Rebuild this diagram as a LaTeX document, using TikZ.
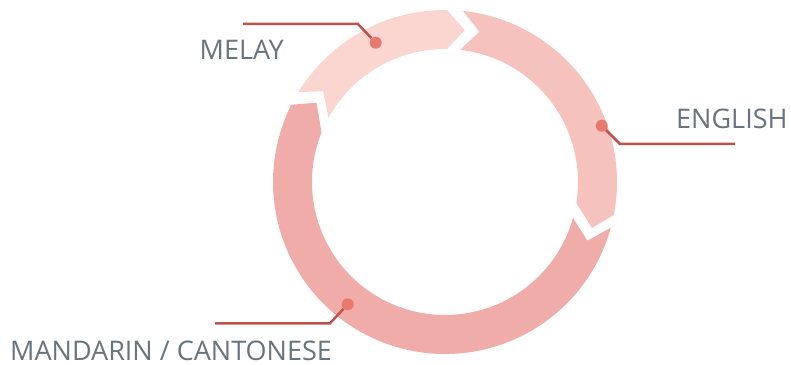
\documentclass[tikz,border=0pt]{standalone}
\usepackage{fontspec}
\setmainfont{Open Sans}
\definecolor{segone}{HTML}{FBD6D1}
\definecolor{segtwo}{HTML}{F5C2BE}
\definecolor{segthree}{HTML}{F0ACA8}
\definecolor{dotc}{HTML}{E8796F}
\definecolor{leadc}{HTML}{BC524C}
\definecolor{txtc}{HTML}{67737D}
\begin{document}
\begin{tikzpicture}[x=1pt,y=1pt,
  lbl/.style={font=\fontsize{27}{29}\selectfont, text=txtc, inner sep=0pt, anchor=base west},
  dotnode/.style={circle, fill=dotc, minimum size=12pt, inner sep=0pt},
  leader/.style={draw=leadc, line width=2.5pt}]
\useasboundingbox (0,0) rectangle (791,364);
\begin{scope}[shift={(445,182)}]
  % MELAY segment
  \fill[segone] (148.5:172) arc[start angle=148.5, end angle=89.3, radius=172]
     -- (82.6:153) -- (89.1:133) arc[start angle=89.1, end angle=151.2, radius=133]
     -- (143.3:152) -- cycle;
  % ENGLISH segment
  \fill[segtwo] (84:172) arc[start angle=84, end angle=-11, radius=172]
     -- (-17.4:154) -- (-9.1:133) arc[start angle=-9.1, end angle=83.5, radius=133]
     -- (77.1:154) -- cycle;
  % MANDARIN segment
  \fill[segthree] (-15.4:172) arc[start angle=-15.4, end angle=-206.7, radius=172]
     -- (-211.7:151) -- (-201.8:133) arc[start angle=-201.8, end angle=-15.7, radius=133]
     -- (-22.4:154) -- cycle;
\end{scope}
% dots
\node[dotnode] (dm) at (375.7,321.3) {};
\node[dotnode] (de) at (601.7,238.3) {};
\node[dotnode] (dc) at (347.7,59.7) {};
% bends and ends
\coordinate (bm) at (358,340);
\coordinate (em) at (243,340);
\coordinate (be) at (620,220);
\coordinate (ee) at (735,220);
\coordinate (bc) at (330,40.7);
\coordinate (ec) at (215,40.7);
\draw[leader] (dm) -- (bm) -- (em);
\draw[leader] (de) -- (be) -- (ee);
\draw[leader] (dc) -- (bc) -- (ec);
% labels
\node[lbl] (tm) at (199.5,304.7) {MELAY};
\node[lbl] (te) at (676,235.5) {ENGLISH};
\node[lbl] (tc) at (10,4) {MANDARIN / CANTONESE};
\end{tikzpicture}
\end{document}
